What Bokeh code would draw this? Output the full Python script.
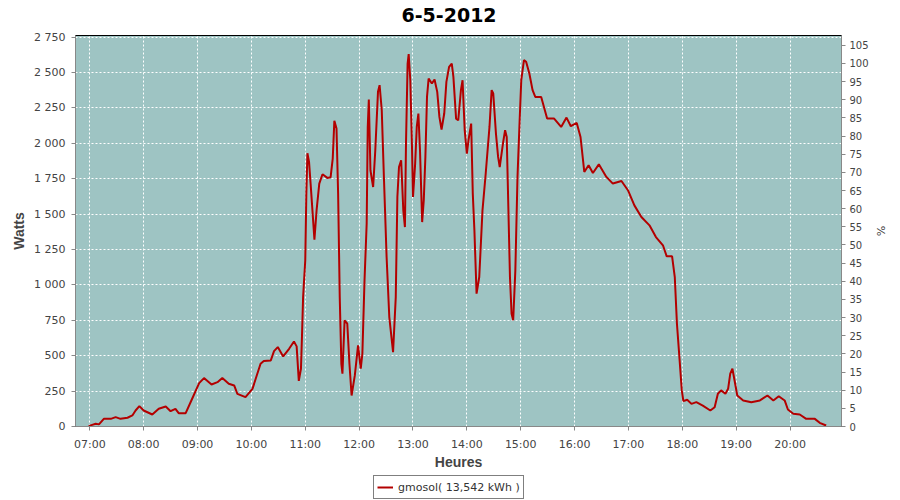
from bokeh.plotting import figure
from bokeh.layouts import column
from bokeh.models import (Range1d, LinearAxis, FixedTicker, Legend, LegendItem, Label)
from bokeh.embed import file_html
from bokeh.resources import INLINE

# ---- data (decimal hours, watts) ----
times = [6.98, 7.03, 7.11, 7.17, 7.26, 7.39, 7.48, 7.57, 7.70, 7.79, 7.85, 7.92, 8.00,
         8.16, 8.28, 8.41, 8.50, 8.59, 8.65, 8.78, 8.90, 9.03, 9.12, 9.26, 9.37, 9.46,
         9.58, 9.68, 9.74, 9.89, 10.02, 10.08, 10.17, 10.23, 10.36, 10.42, 10.49, 10.59,
         10.70, 10.79, 10.84, 10.88, 10.92, 10.94, 10.96, 11.00, 11.02, 11.04, 11.07,
         11.10, 11.15, 11.17, 11.21, 11.26, 11.32, 11.41, 11.47, 11.51, 11.54, 11.58,
         11.61, 11.64, 11.67, 11.69, 11.73, 11.78, 11.82, 11.86, 11.92, 11.98, 12.03,
         12.06, 12.10, 12.14, 12.16, 12.18, 12.21, 12.26, 12.30, 12.35, 12.38, 12.42,
         12.46, 12.51, 12.56, 12.61, 12.63, 12.68, 12.71, 12.74, 12.78, 12.82, 12.85,
         12.87, 12.90, 12.92, 12.95, 12.98, 13.00, 13.04, 13.07, 13.10, 13.13, 13.17,
         13.20, 13.23, 13.26, 13.29, 13.35, 13.40, 13.45, 13.49, 13.53, 13.58, 13.62,
         13.67, 13.72, 13.75, 13.80, 13.84, 13.89, 13.92, 13.96, 14.00, 14.03, 14.08,
         14.11, 14.14, 14.18, 14.23, 14.29, 14.35, 14.42, 14.46, 14.49, 14.54, 14.58,
         14.61, 14.67, 14.71, 14.74, 14.77, 14.80, 14.83, 14.86, 14.90, 14.94, 14.98,
         15.01, 15.06, 15.10, 15.16, 15.22, 15.27, 15.38, 15.49, 15.62, 15.75, 15.85,
         15.93, 16.04, 16.11, 16.18, 16.26, 16.34, 16.45, 16.59, 16.71, 16.87, 16.99,
         17.11, 17.24, 17.39, 17.51, 17.64, 17.71, 17.81, 17.86, 17.90, 17.95, 17.99,
         18.02, 18.09, 18.17, 18.26, 18.38, 18.52, 18.60, 18.66, 18.72, 18.80, 18.85,
         18.89, 18.93, 18.97, 19.02, 19.13, 19.28, 19.44, 19.58, 19.69, 19.79, 19.90,
         19.96, 20.06, 20.18, 20.30, 20.46, 20.55, 20.67]
watts = [0, 10, 19, 15, 54, 54, 66, 54, 62, 78, 113, 144, 113,
         85, 125, 141, 108, 125, 94, 94, 196, 306, 342, 297, 313, 342,
         302, 290, 231, 207, 266, 337, 443, 462, 467, 532, 561, 495,
         549, 600, 566, 322, 408, 650, 914, 1174, 1645, 1930, 1869,
         1710, 1433, 1320, 1527, 1716, 1782, 1756, 1760, 1893, 2159, 2105,
         1645, 914, 443, 373, 750, 726, 443, 219, 361, 573, 408,
         514, 1032, 1433, 2116, 2310, 1810, 1692, 1951, 2364, 2411, 2234,
         1763, 1197, 773, 596, 525, 914, 1621, 1833, 1881, 1527, 1409,
         1999, 2564, 2630, 2446, 1999, 1621, 1857, 2116, 2211, 1951, 1444,
         1598, 1904, 2328, 2458, 2423, 2451, 2364, 2187, 2098, 2211, 2434,
         2540, 2564, 2470, 2175, 2163, 2376, 2446, 2093, 1928, 2022, 2140,
         1645, 1386, 938, 1056, 1527, 1787, 2116, 2376, 2352, 2069, 1904,
         1833, 1999, 2093, 2045, 1551, 1056, 797, 750, 1103, 1763, 2163,
         2446, 2588, 2576, 2494, 2376, 2328, 2328, 2175, 2175, 2116, 2182,
         2121, 2144, 2045, 1798, 1845, 1791, 1852, 1763, 1716, 1734, 1669,
         1562, 1480, 1421, 1338, 1280, 1202, 1202, 1056, 726, 467, 255,
         179, 189, 160, 172, 148, 113, 136, 231, 255, 231, 266,
         373, 408, 325, 219, 184, 172, 184, 219, 184, 214, 184,
         120, 90, 85, 54, 54, 26, 7]

hour_ticks = [7, 8, 9, 10, 11, 12, 13, 14, 15, 16, 17, 18, 19, 20]
hour_labels = ["07:00", "08:00", "09:00", "10:00", "11:00", "12:00", "13:00",
               "14:00", "15:00", "16:00", "17:00", "18:00", "19:00", "20:00"]
watt_ticks = [0, 250, 500, 750, 1000, 1250, 1500, 1750, 2000, 2250, 2500, 2750]
watt_labels = ["0", "250", "500", "750", "1 000", "1 250", "1 500", "1 750",
               "2 000", "2 250", "2 500", "2 750"]
pct_ticks = [0, 5, 10, 15, 20, 25, 30, 35, 40, 45, 50, 55, 60, 65, 70, 75, 80,
             85, 90, 95, 100, 105]

title_text = "6-5-2012"
series_label = "gmosol( 13,542 kWh )"

LINE_COLOR = "#b30000"
TICK_COLOR = "#444444"
AXIS_COLOR = "#888888"

# ---------------- title strip ----------------
tf = figure(width=900, height=25, output_backend="svg", toolbar_location=None,
            x_axis_type=None, y_axis_type=None, min_border=0,
            x_range=Range1d(0, 1), y_range=Range1d(0, 1))
tf.outline_line_color = None
tf.background_fill_color = "white"
tf.border_fill_color = "white"
tf.title = None
tf.add_layout(Label(x=326, y=11, x_units="screen", y_units="screen", text=title_text,
                    text_font="DejaVu Sans", text_font_style="bold",
                    text_font_size="19px", text_color="black",
                    text_baseline="alphabetic", text_align="left"))

# ---------------- main chart ----------------
p = figure(frame_width=766, frame_height=391, output_backend="svg", toolbar_location=None,
           x_range=Range1d(6.7345, 20.955), y_range=Range1d(0, 2762),
           min_border_left=75, min_border_right=59, min_border_top=10,
           min_border_bottom=48)
p.extra_y_ranges = {"pct": Range1d(0, 107.7)}
p.title = None

p.background_fill_color = "#9ec4c3"
p.border_fill_color = "white"
p.outline_line_color = "black"
p.outline_line_width = 1

r = p.line(times, watts, line_color=LINE_COLOR, line_width=2)

def style_axis(ax, size="11px"):
    ax.axis_line_color = AXIS_COLOR
    ax.major_tick_line_color = AXIS_COLOR
    ax.minor_tick_line_color = None
    ax.major_tick_out = 4
    ax.major_tick_in = 0
    ax.major_label_text_font = "DejaVu Sans"
    ax.major_label_text_font_size = size
    ax.major_label_text_color = TICK_COLOR
    ax.axis_label_text_font = "Liberation Sans"
    ax.axis_label_text_font_style = "bold"
    ax.axis_label_text_font_size = "14px"
    ax.axis_label_text_color = TICK_COLOR

xa = p.xaxis[0]
xa.ticker = FixedTicker(ticks=hour_ticks)
xa.major_label_overrides = {h: l for h, l in zip(hour_ticks, hour_labels)}
xa.axis_label = "Heures"
style_axis(xa)
xa.major_label_standoff = 7
xa.axis_label_standoff = 0

ya = p.yaxis[0]
ya.ticker = FixedTicker(ticks=watt_ticks)
ya.major_label_overrides = {t: l for t, l in zip(watt_ticks, watt_labels)}
ya.axis_label = "Watts"
style_axis(ya)
ya.major_label_standoff = 6
ya.axis_label_standoff = 4

ra = LinearAxis(y_range_name="pct", ticker=FixedTicker(ticks=pct_ticks), axis_label="%")
style_axis(ra, "10px")
ra.major_label_standoff = 4
ra.axis_label_standoff = 2
ra.axis_label_text_font = "DejaVu Sans"
ra.axis_label_text_font_style = "normal"
ra.axis_label_text_font_size = "11px"
p.add_layout(ra, "right")

p.xgrid.ticker = FixedTicker(ticks=hour_ticks)
p.ygrid.ticker = FixedTicker(ticks=watt_ticks)
for g in (p.xgrid[0], p.ygrid[0]):
    g.grid_line_color = "white"
    g.grid_line_dash = "2 2"
    g.grid_line_width = 1

# ---------------- legend strip ----------------
# the same series is drawn here but kept outside this strip's view range,
# so only its legend swatch is visible
lf = figure(width=900, height=26, output_backend="svg", toolbar_location=None,
            x_axis_type=None, y_axis_type=None, min_border=0,
            x_range=Range1d(6.7345, 20.955), y_range=Range1d(-2000, -1000))
lf.outline_line_color = None
lf.background_fill_color = "white"
lf.border_fill_color = "white"
lf.title = None
proxy = lf.line(times, watts, line_color=LINE_COLOR, line_width=2)
legend = Legend(items=[LegendItem(label=series_label, renderers=[proxy])],
                location=(298, 1), orientation="horizontal",
                border_line_color="black", border_line_width=1,
                background_fill_color="white", background_fill_alpha=1,
                padding=3, spacing=0, margin=0,
                glyph_width=16, glyph_height=16, label_height=16,
                label_standoff=5, label_text_font="DejaVu Sans",
                label_text_font_size="11px", label_text_color="#333333")
lf.add_layout(legend, "center")

layout = column(tf, p, lf, spacing=0)
open("out.html", "w").write(file_html(layout, INLINE))
